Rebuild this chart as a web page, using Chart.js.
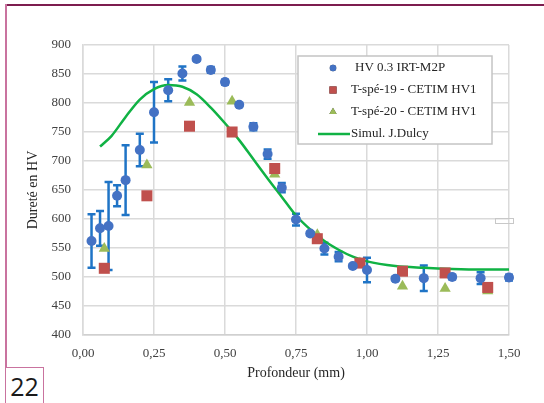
<!DOCTYPE html>
<html>
<head>
<meta charset="utf-8">
<script src="https://cdn.jsdelivr.net/npm/chart.js@4.4.0/dist/chart.umd.min.js"></script>
<style>
  body { margin: 0; background: #fff; }
  #wrap { position: relative; width: 544px; height: 403px; overflow: hidden; }
  #topLine { position: absolute; left: 6px; top: 4px; width: 540px; height: 2px; background: #7d1d4f; }
  #leftLine { position: absolute; left: 5px; top: 4px; width: 2px; height: 400px; background: #c9739f; }
  #pageBox { position: absolute; left: 5px; top: 367px; width: 37px; height: 40px; border: 1.5px solid #c9739f; border-bottom: none;
    font-family: "Open Sans", "Noto Sans", sans-serif; font-size: 25px; line-height: 36px; text-align: center; color: #1a1a1a; background: #fff; }
  #zone { position: absolute; left: 495px; top: 218px; width: 17px; height: 4px; border: 1px solid #c8c8c8; font-size: 3px; color: #999; }
  canvas { position: absolute; left: 0; top: 0; }
</style>
</head>
<body>
<div id="wrap">
  <canvas id="chart" width="544" height="403"></canvas>
  <div id="topLine"></div>
  <div id="leftLine"></div>
  <div id="pageBox">22</div>
  <div id="zone"></div>
</div>
<script>
// ---------- données ----------
const xTickLabels = ["0,00", "0,25", "0,50", "0,75", "1,00", "1,25", "1,50"];

// HV 0.3 IRT-M2P (avec barres d'erreur)
const hvDepth = [0.03, 0.06, 0.09, 0.12, 0.15, 0.20, 0.25, 0.30, 0.35, 0.40, 0.45, 0.50, 0.55, 0.60,
  0.65, 0.70, 0.75, 0.80, 0.85, 0.90, 0.95, 1.00, 1.10, 1.20, 1.30, 1.40, 1.50];
const hvValues = [562, 584, 588, 640, 667, 719, 784, 822, 851, 876, 857, 836, 797, 759,
  712, 654, 599, 575, 549, 535, 519, 512, 497, 498, 500, 498, 499];
const hvError = [46, 30, 76, 18, 60, 28, 52, 19, 12, 3, 5, 4, 3, 6,
  8, 8, 10, 3, 10, 8, 3, 21, 3, 22, 4, 10, 5];

// CETIM HV1
const cetimDepth = [0.075, 0.225, 0.375, 0.525, 0.675, 0.825, 0.975, 1.125, 1.275, 1.425];
const t19Values = [515, 640, 760, 750, 687, 566, 524, 510, 507, 482];
const t20Values = [549, 693, 801, 803, 677, 573, 524, 484, 480, 476];

// Simulation
const simDepth = [0.06, 0.10, 0.15, 0.20, 0.25, 0.30, 0.35, 0.40, 0.45, 0.50, 0.55, 0.60, 0.65,
  0.70, 0.75, 0.80, 0.85, 0.90, 0.95, 1.00, 1.10, 1.20, 1.30, 1.40, 1.50];
const simValues = [725, 743, 776, 806, 824, 831, 828, 815, 792, 765, 736, 703, 670,
  638, 606, 582, 562, 547, 535, 527, 519, 516, 514, 513, 513];

const labels = ["HV 0.3 IRT-M2P", "T-spé-19 - CETIM HV1", "T-spé-20 - CETIM HV1", "Simul. J.Dulcy"];

const pts = (xs, ys) => xs.map((x, i) => ({ x: x, y: ys[i] }));
const serif = '"Liberation Serif", "Times New Roman", serif';

// ---------- barres d'erreur ----------
const errorBars = {
  id: 'errorBars',
  beforeDatasetsDraw(chart) {
    const { ctx, scales: { x, y } } = chart;
    ctx.save();
    ctx.strokeStyle = '#1f74c6';
    ctx.lineWidth = 2.5;
    hvDepth.forEach((d, i) => {
      const px = x.getPixelForValue(d);
      const top = y.getPixelForValue(hvValues[i] + hvError[i]);
      const bot = y.getPixelForValue(hvValues[i] - hvError[i]);
      ctx.beginPath();
      ctx.moveTo(px, top); ctx.lineTo(px, bot);
      ctx.moveTo(px - 4, top); ctx.lineTo(px + 4, top);
      ctx.moveTo(px - 4, bot); ctx.lineTo(px + 4, bot);
      ctx.stroke();
    });
    ctx.restore();
  }
};

// ---------- légende dans la zone du graphique ----------
const boxLegend = {
  id: 'boxLegend',
  afterDraw(chart) {
    const { ctx, chartArea } = chart;
    const lx = chartArea.left + 215, ly = chartArea.top + 11;
    ctx.save();
    ctx.fillStyle = '#fff';
    ctx.strokeStyle = '#c4c4c4';
    ctx.lineWidth = 1.5;
    ctx.fillRect(lx, ly, 194, 88);
    ctx.strokeRect(lx, ly, 194, 88);
    ctx.font = '13px ' + serif;
    ctx.fillStyle = '#262626';
    ctx.textBaseline = 'middle';
    chart.data.datasets.forEach((ds, i) => {
      const cy = ly + 12 + i * 22;
      if (ds.type === 'line') {
        ctx.strokeStyle = ds.borderColor;
        ctx.lineWidth = 2.5;
        ctx.beginPath();
        ctx.moveTo(lx + 20, cy); ctx.lineTo(lx + 52, cy);
        ctx.stroke();
        ctx.fillText(labels[i], lx + 53, cy);
      } else {
        Chart.helpers.drawPoint(ctx, {
          pointStyle: ds.pointStyle, radius: ds.pointRadius * 0.65, borderWidth: 0
        }, lx + 35, cy);
        ctx.fillStyle = ds.backgroundColor;
        ctx.fill();
        ctx.fillStyle = '#262626';
        ctx.fillText(labels[i], lx + (i === 0 ? 57 : 53), cy);
      }
    });
    ctx.restore();
  }
};

new Chart(document.getElementById('chart'), {
  type: 'scatter',
  data: {
    datasets: [
      { label: labels[0], data: pts(hvDepth, hvValues), pointStyle: 'circle', pointRadius: 5,
        backgroundColor: '#4472c4', borderWidth: 0, clip: false },
      { label: labels[1], data: pts(cetimDepth, t19Values), pointStyle: 'rect', pointRadius: 7.8,
        backgroundColor: '#c0504d', borderWidth: 0, clip: false },
      { label: labels[2], data: pts(cetimDepth, t20Values), pointStyle: 'triangle', pointRadius: 6.5,
        backgroundColor: '#9bbb59', borderWidth: 0, clip: false },
      { type: 'line', label: labels[3], data: pts(simDepth, simValues), borderColor: '#10b244',
        borderWidth: 2.5, pointRadius: 0, tension: 0.4, cubicInterpolationMode: 'monotone', fill: false, clip: false }
    ]
  },
  options: {
    responsive: false,
    animation: false,
    layout: { padding: { left: 20, top: 45, right: 35, bottom: 20 } },
    plugins: { legend: { display: false }, tooltip: { enabled: false } },
    scales: {
      x: {
        type: 'linear', min: 0, max: 1.5,
        afterFit(scale) { scale.height = 48; },
        afterBuildTicks(scale) {
          scale.ticks = xTickLabels.map((t, i) => ({ value: i * 0.25 }));
        },
        ticks: {
          color: '#404040', font: { family: serif, size: 13 }, padding: 11, maxRotation: 0,
          callback: (v, i) => xTickLabels[i]
        },
        grid: { color: '#dadada', lineWidth: 1.5, drawTicks: false },
        border: { color: '#d0d0d0', width: 1.5 },
        title: { display: true, text: 'Profondeur (mm)', color: '#262626',
          font: { family: serif, size: 14 }, padding: { top: 0, bottom: 1 } }
      },
      y: {
        min: 400, max: 900,
        afterFit(scale) { scale.width = 63; },
        ticks: { stepSize: 50, color: '#404040', font: { family: serif, size: 13 }, padding: 12 },
        grid: { color: '#dadada', lineWidth: 1.5, drawTicks: false },
        border: { color: '#dadada', width: 1.5 },
        title: { display: true, text: 'Dureté en HV', color: '#262626',
          font: { family: serif, size: 14 }, padding: { top: 5, bottom: 0 } }
      }
    }
  },
  plugins: [errorBars, boxLegend]
});
</script>
</body>
</html>
